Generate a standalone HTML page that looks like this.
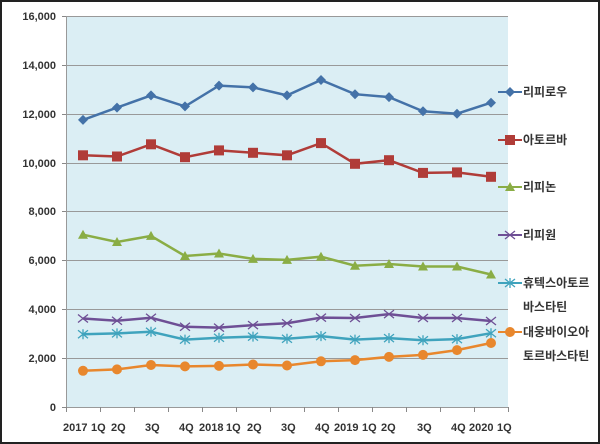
<!DOCTYPE html>
<html><head><meta charset="utf-8"><style>
body{margin:0;background:#fff}
svg{display:block}
text{font-family:"Liberation Sans","Noto Sans CJK KR",sans-serif;font-weight:bold;fill:#333}
</style></head><body>
<svg width="600" height="444" viewBox="0 0 600 444" xmlns="http://www.w3.org/2000/svg">
<defs>
<marker id="md" markerUnits="userSpaceOnUse" markerWidth="12" markerHeight="12" refX="6" refY="6" overflow="visible"><path d="M6 1l5 5l-5 5l-5 -5z" fill="#4472a8"/></marker>
<marker id="ms" markerUnits="userSpaceOnUse" markerWidth="12" markerHeight="12" refX="6" refY="6" overflow="visible"><rect x="1" y="1" width="10" height="10" fill="#b03c38"/></marker>
<marker id="mt" markerUnits="userSpaceOnUse" markerWidth="12" markerHeight="12" refX="6" refY="6" overflow="visible"><path d="M6 1l5 9h-10z" fill="#8aad45"/></marker>
<marker id="mx" markerUnits="userSpaceOnUse" markerWidth="12" markerHeight="12" refX="6" refY="6" overflow="visible"><path d="M1 2l10 8M1 10l10 -8" stroke="#6e4f95" stroke-width="1.3" fill="none"/></marker>
<marker id="ma" markerUnits="userSpaceOnUse" markerWidth="12" markerHeight="12" refX="6" refY="6" overflow="visible"><path d="M1 2l10 8M1 10l10 -8M6 1v10" stroke="#3fa3bd" stroke-width="1.3" fill="none"/></marker>
<marker id="mc" markerUnits="userSpaceOnUse" markerWidth="12" markerHeight="12" refX="6" refY="6" overflow="visible"><circle cx="6" cy="6" r="5" fill="#e8872d"/></marker>
</defs>
<rect x="1" y="1" width="598" height="442" fill="#fff" stroke="#222" stroke-width="2"/>
<rect x="66" y="16" width="442" height="391" fill="#dbeef4"/>
<g stroke="#999" stroke-width="1">
<line x1="66" x2="508" y1="16.5" y2="16.5"/><line x1="66" x2="508" y1="65.5" y2="65.5"/>
<line x1="66" x2="508" y1="114.5" y2="114.5"/><line x1="66" x2="508" y1="163.5" y2="163.5"/>
<line x1="66" x2="508" y1="211.5" y2="211.5"/><line x1="66" x2="508" y1="260.5" y2="260.5"/>
<line x1="66" x2="508" y1="309.5" y2="309.5"/><line x1="66" x2="508" y1="358.5" y2="358.5"/>
<line x1="66" x2="508" y1="407.5" y2="407.5"/>
<line x1="66.5" x2="66.5" y1="16" y2="407"/>
</g>
<g stroke="#888"><path d="M62 16.5h4M62 65.5h4M62 114.5h4M62 163.5h4M62 211.5h4M62 260.5h4M62 309.5h4M62 358.5h4M62 407.5h4"/>
<path d="M66.5 407v5M100.5 407v5M134.5 407v5M168.5 407v5M202.5 407v5M236.5 407v5M270.5 407v5M304.5 407v5M338.5 407v5M372.5 407v5M406.5 407v5M440.5 407v5M474.5 407v5M508.5 407v5"/></g>
<g font-size="11" text-anchor="end">
<text x="56" y="20">16,000</text><text x="56" y="69">14,000</text><text x="56" y="118">12,000</text>
<text x="56" y="167">10,000</text><text x="56" y="215">8,000</text><text x="56" y="264">6,000</text>
<text x="56" y="313">4,000</text><text x="56" y="362">2,000</text><text x="56" y="411">0</text>
</g>
<g font-size="11">
<text x="63" y="431">2017</text><text x="91" y="431">1Q</text><text x="111" y="431">2Q</text><text x="145" y="431">3Q</text>
<text x="179" y="431">4Q</text><text x="199" y="431">2018</text><text x="226" y="431">1Q</text><text x="247" y="431">2Q</text>
<text x="281" y="431">3Q</text><text x="315" y="431">4Q</text><text x="334" y="431">2019</text><text x="362" y="431">1Q</text>
<text x="381" y="431">2Q</text><text x="417" y="431">3Q</text><text x="451" y="431">4Q</text><text x="469" y="431">2020</text><text x="497" y="431">1Q</text>
</g>
<g fill="none" stroke-width="2.5">
<polyline stroke="#4472a8" marker-start="url(#md)" marker-mid="url(#md)" marker-end="url(#md)" points="83,119.9 117,107.6 151,95.4 185,106.4 219,85.6 253,87.4 287,95.4 321,80 355,94.2 389,97.1 423,111.3 457,113.7 491,102.7"/>
<polyline stroke="#b03c38" marker-start="url(#ms)" marker-mid="url(#ms)" marker-end="url(#ms)" points="83,155.3 117,156.5 151,144.3 185,157.2 219,150.4 253,152.8 287,155.3 321,143.1 355,163.8 389,160.2 423,172.9 457,172.4 491,176.8"/>
<polyline stroke="#8aad45" marker-start="url(#mt)" marker-mid="url(#mt)" marker-end="url(#mt)" points="83,234.7 117,242 151,235.9 185,256 219,253.5 253,258.9 287,259.9 321,256.7 355,265.7 389,264 423,266.5 457,266.5 491,274.5"/>
<polyline stroke="#6e4f95" marker-start="url(#mx)" marker-mid="url(#mx)" marker-end="url(#mx)" points="83,318.5 117,320.7 151,317.8 185,326.8 219,327.6 253,325.1 287,323.2 321,317.6 355,318 389,314.1 423,318 457,318 491,321"/>
<polyline stroke="#3fa3bd" marker-start="url(#ma)" marker-mid="url(#ma)" marker-end="url(#ma)" points="83,334.2 117,333.4 151,331.7 185,339.6 219,337.8 253,336.6 287,338.8 321,336.1 355,339.6 389,338.1 423,340.3 457,339.1 491,333.2"/>
<polyline stroke="#e8872d" marker-start="url(#mc)" marker-mid="url(#mc)" marker-end="url(#mc)" points="83,370.8 117,369.4 151,365 185,366.4 219,365.9 253,364.5 287,365.5 321,361.3 355,360.1 389,356.9 423,354.9 457,350.1 491,343"/>
</g>
<g fill="none" stroke-width="2">
<polyline stroke="#4472a8" marker-mid="url(#md)" points="498,92 510,92 522,92"/>
<polyline stroke="#b03c38" marker-mid="url(#ms)" points="498,140 510,140 522,140"/>
<polyline stroke="#8aad45" marker-mid="url(#mt)" points="498,187 510,187 522,187"/>
<polyline stroke="#6e4f95" marker-mid="url(#mx)" points="498,235 510,235 522,235"/>
<polyline stroke="#3fa3bd" marker-mid="url(#ma)" points="498,283 510,283 522,283"/>
<polyline stroke="#e8872d" marker-mid="url(#mc)" points="498,332 510,332 522,332"/>
</g>
<g font-size="12">
<text x="523" y="96">리피로우</text><text x="523" y="144">아토르바</text><text x="523" y="191">리피논</text>
<text x="523" y="239">리피원</text><text x="523" y="287">휴텍스아토르</text><text x="523" y="311">바스타틴</text>
<text x="523" y="336">대웅바이오아</text><text x="523" y="360">토르바스타틴</text>
</g>
</svg>
</body></html>
